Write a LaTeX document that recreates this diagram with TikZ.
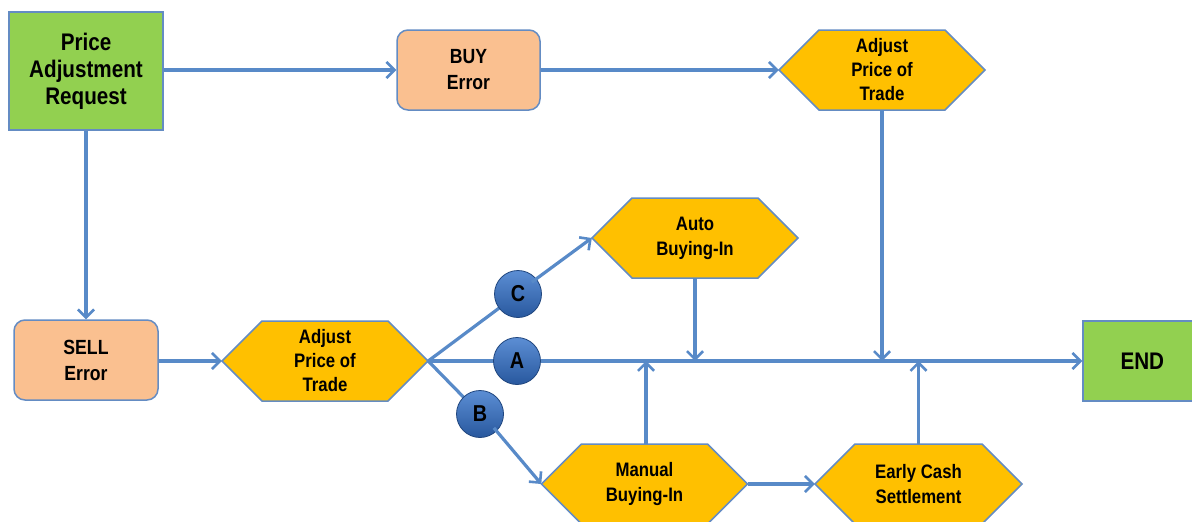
\documentclass[tikz,border=0pt]{standalone}
\usepackage{fontspec}
\setmainfont{Liberation Sans}[FakeStretch=0.86]
\usetikzlibrary{arrows.meta}
\definecolor{lineblue}{RGB}{88,138,200}
\definecolor{edgeblue}{RGB}{100,140,195}
\definecolor{grn}{RGB}{146,208,80}
\definecolor{peach}{RGB}{250,192,144}
\definecolor{gold}{RGB}{255,192,0}
\definecolor{ballhi}{RGB}{92,142,212}
\definecolor{balllo}{RGB}{40,88,158}
\tikzset{
  conn/.style={draw=lineblue, line width=3.2pt},
  arr/.style={conn, -{Straight Barb[length=8pt,width=16pt,line width=2.6pt]}},
  txt/.style={font=\bfseries, align=center, text=black},
  greenbox/.style={txt, draw=edgeblue, line width=1.5pt, fill=grn, inner sep=0pt},
  peachbox/.style={txt, draw=edgeblue, line width=1.5pt, fill=peach, rounded corners=11pt, inner sep=0pt},
  hexnode/.style={txt, draw=none, inner sep=0pt, minimum height=80pt},
  hexsty/.style={draw=edgeblue, line width=1.5pt, fill=gold},
  ball/.style={circle, minimum size=47pt, inner sep=0pt, draw=balllo!80!black, line width=0.8pt,
     top color=ballhi, bottom color=balllo, font=\fontsize{23}{23}\selectfont\bfseries, text=black}
}
\newcommand\hexagonnode[6]{% name, cx, cy, halfwidth, fontsize/leading, text
  \draw[hexsty] ({#2-#4},{#3}) -- ({#2-#4+40},{#3-40}) -- ({#2+#4-40},{#3-40}) -- ({#2+#4},{#3})
     -- ({#2+#4-40},{#3+40}) -- ({#2-#4+40},{#3+40}) -- cycle;
  \node[hexnode, minimum width={2*#4}, font=#5\bfseries] (#1) at (#2,#3) {#6};
}
\begin{document}
\begin{tikzpicture}[x=1pt,y=-1pt]
\useasboundingbox (0,0) rectangle (1192,522);
% boxes
\node[greenbox, minimum width=154pt, minimum height=118pt, font=\fontsize{24}{27}\selectfont\bfseries] (par) at (86,71) {Price\\Adjustment\\Request};
\node[peachbox, minimum width=143pt, minimum height=80pt, font=\fontsize{20.5}{26}\selectfont\bfseries] (buy) at (468.5,70) {BUY\\Error};
\node[peachbox, minimum width=144pt, minimum height=80pt, font=\fontsize{20.5}{26}\selectfont\bfseries] (sell) at (86,360) {SELL\\Error};
\node[greenbox, minimum width=112pt, minimum height=80pt, font=\fontsize{24}{24}\selectfont\bfseries, text width=109pt, align=left] (end) at (1139,361) {\hspace*{36pt}END};
% hexagons
\hexagonnode{adjtop}{882}{70}{103}{\fontsize{19.5}{24}\selectfont}{Adjust\\Price of\\Trade}
\hexagonnode{adjlow}{325}{361}{103}{\fontsize{19.5}{24}\selectfont}{Adjust\\Price of\\Trade}
\hexagonnode{auto}{695}{238}{103}{\fontsize{19.5}{25}\selectfont}{Auto\\Buying-In}
\hexagonnode{manual}{644.5}{484}{103}{\fontsize{19.5}{25}\selectfont}{Manual\\Buying-In}
\hexagonnode{early}{918.5}{484}{103.5}{\fontsize{19.5}{25}\selectfont}{Early Cash\\Settlement}
% connectors
\draw[arr] (par.east |- buy.west) -- (buy.west);
\draw[arr] (buy.east) -- (adjtop.west);
\draw[arr] (par.south) -- (par.south |- sell.north);
\draw[arr] (sell.east |- adjlow.west) -- (adjlow.west);
% balls (positions)
\coordinate (Apos) at (517,361);
\coordinate (Cpos) at (518,294);
\coordinate (Bpos) at (480,414);
\draw[conn] (adjlow.east) -- (Apos);
\draw[conn] (adjlow.east) -- (Cpos);
\draw[conn] (adjlow.east) -- (Bpos);
\node[ball] (A) at (Apos) {A};
\node[ball] (C) at (Cpos) {C};
\node[ball] (B) at (Bpos) {B};
\draw[arr] (A.east) -- (end.west);
\draw[arr] (C.north east) ++(-3,5) -- (auto.west);
\draw[arr] (B.south east) ++(-3,-3) -- (manual.west);
\draw[arr] (auto.south) -- (auto.south |- A);
\draw[arr] (adjtop.south) -- (adjtop.south |- A);
\coordinate (mtop) at (646,444);
\draw[arr] (mtop) -- (mtop |- A);
\draw[arr] (early.north) -- (early.north |- A);
\draw[arr] (manual.east) -- (early.west);
\end{tikzpicture}
\end{document}
